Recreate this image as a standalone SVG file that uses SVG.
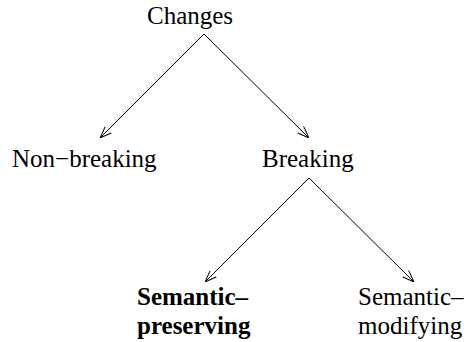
<svg xmlns="http://www.w3.org/2000/svg" width="467" height="342" viewBox="0 0 467 342">
  <style>
    .lbl { font-family: 'Liberation Serif', 'Times New Roman', Times, 'DejaVu Serif', serif; font-size: 25px; fill: #000; }
    .bold { font-weight: bold; }
    .edge { stroke: #000; stroke-width: 1; fill: none; }
  </style>
  <defs>
    <marker id="arrow" viewBox="0 0 12 10" refX="12" refY="5" markerWidth="12" markerHeight="10" markerUnits="userSpaceOnUse" orient="auto">
      <path d="M0,0.5 L12,5 L0,9.5" fill="none" stroke="#000" stroke-width="1"/>
    </marker>
  </defs>
  <rect width="467" height="342" fill="#fff"/>

  <g id="changes">
    <text class="lbl" font-family="Liberation Serif, serif" x="147" y="24">Changes</text>
  </g>
  <g id="non-breaking">
    <text class="lbl" font-family="Liberation Serif, serif" x="12" y="167">Non−breaking</text>
  </g>
  <g id="breaking">
    <text class="lbl" font-family="Liberation Serif, serif" x="262" y="167">Breaking</text>
  </g>
  <g id="semantic-preserving">
    <text class="lbl bold" font-family="Liberation Serif, serif" x="137" y="305">Semantic–</text>
    <text class="lbl bold" font-family="Liberation Serif, serif" x="137" y="334">preserving</text>
  </g>
  <g id="semantic-modifying">
    <text class="lbl" font-family="Liberation Serif, serif" x="358" y="305">Semantic–</text>
    <text class="lbl" font-family="Liberation Serif, serif" x="358" y="334">modifying</text>
  </g>

  <g id="connectors">
    <line class="edge" x1="204" y1="34" x2="100" y2="138" marker-end="url(#arrow)"/>
    <line class="edge" x1="204" y1="34" x2="309" y2="138" marker-end="url(#arrow)"/>
    <line class="edge" x1="309" y1="178" x2="205" y2="282" marker-end="url(#arrow)"/>
    <line class="edge" x1="309" y1="178" x2="414" y2="282" marker-end="url(#arrow)"/>
  </g>
</svg>
